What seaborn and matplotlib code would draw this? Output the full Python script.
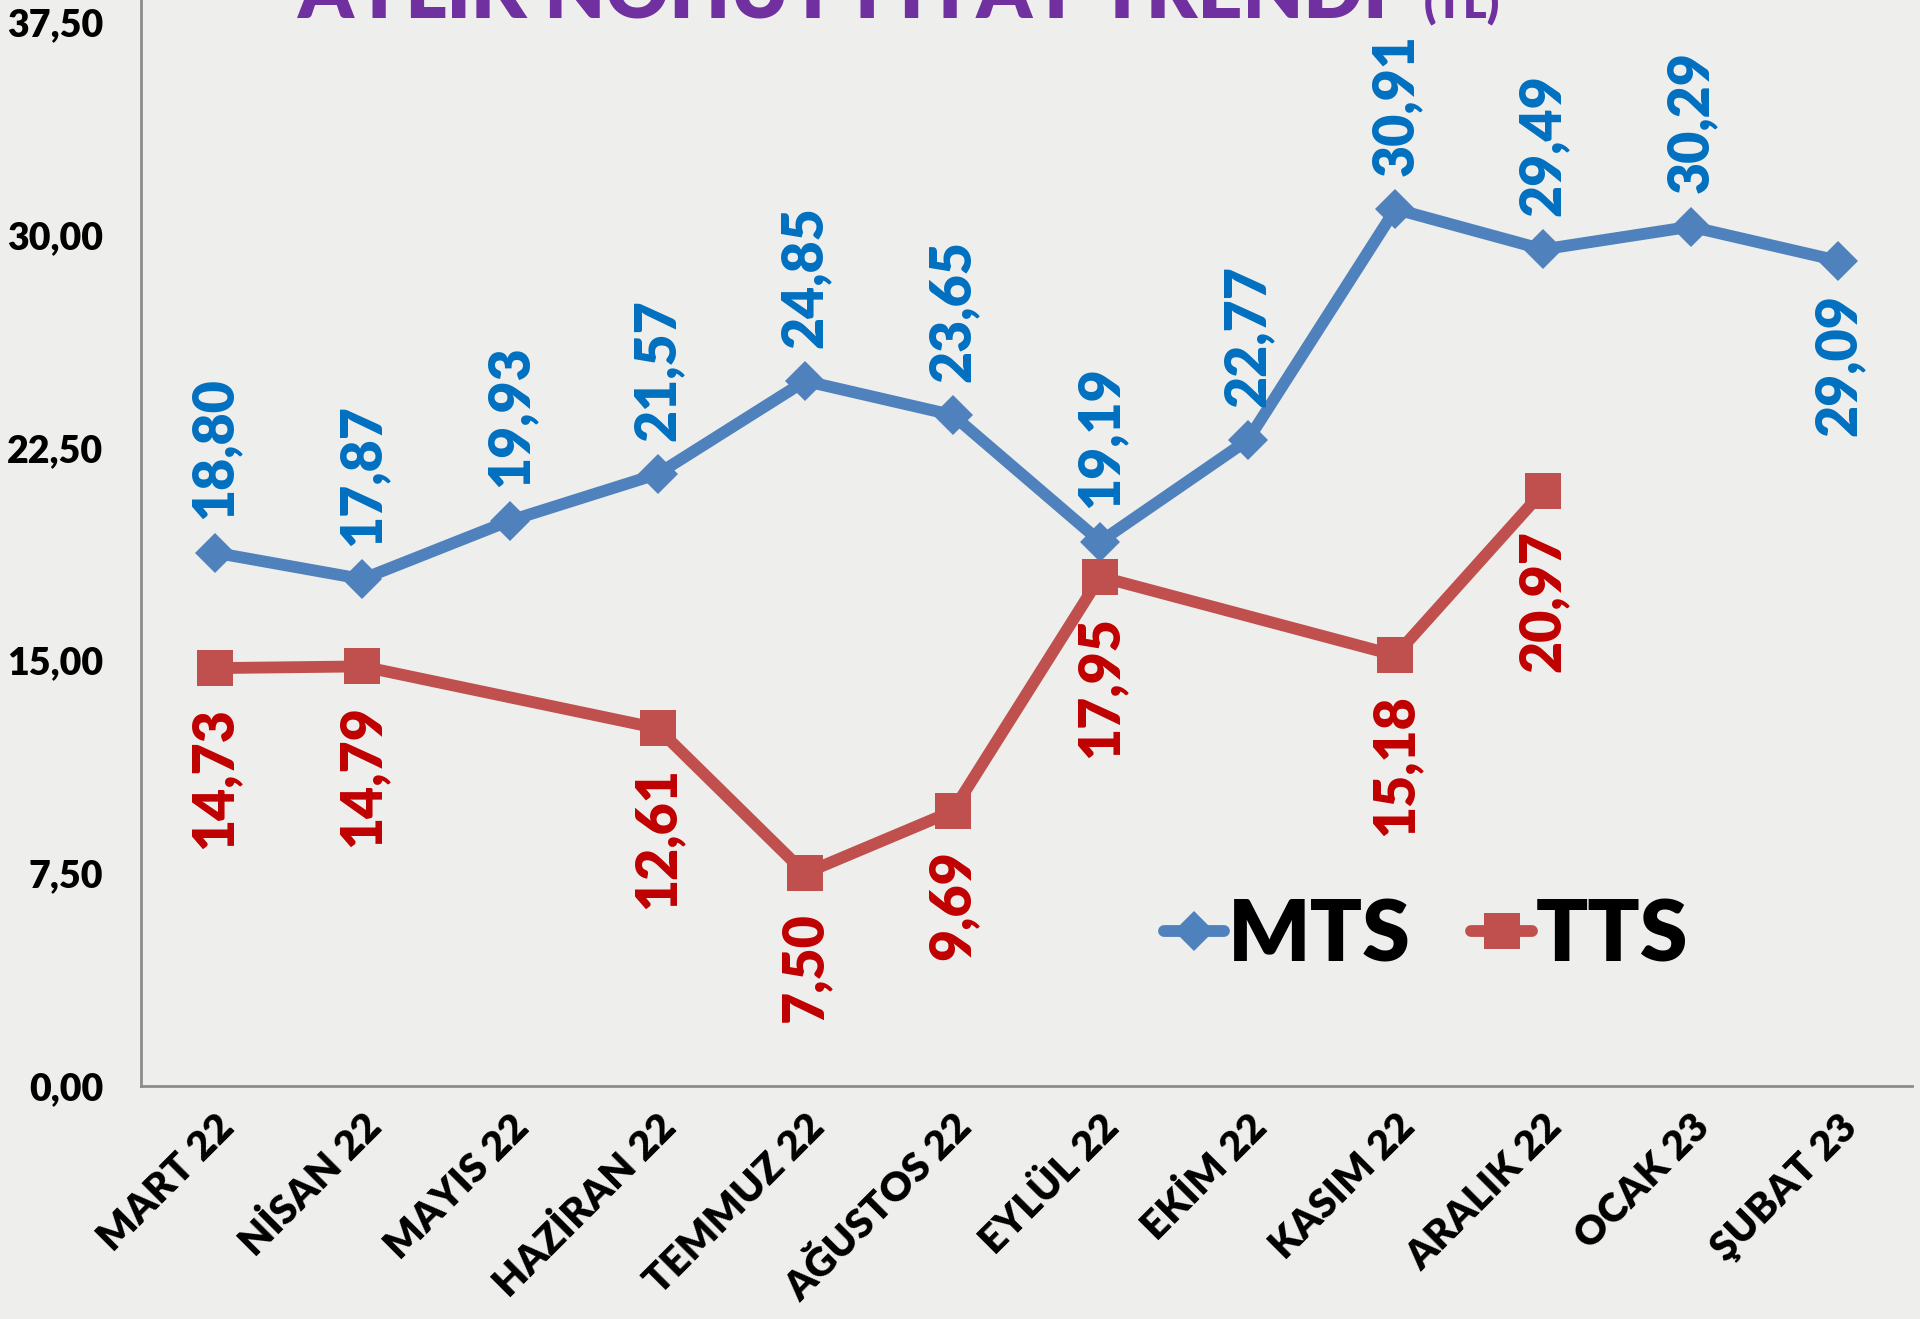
import seaborn as sns
import matplotlib.pyplot as plt
import pandas as pd
from matplotlib.ticker import FuncFormatter, FixedLocator

# monthly chickpea prices (TL)
months = ["MART 22", "NİSAN 22", "MAYIS 22", "HAZİRAN 22", "TEMMUZ 22", "AĞUSTOS 22",
          "EYLÜL 22", "EKİM 22", "KASIM 22", "ARALIK 22", "OCAK 23", "ŞUBAT 23"]
mts = [18.80, 17.87, 19.93, 21.57, 24.85, 23.65, 19.19, 22.77, 30.91, 29.49, 30.29, 29.09]
tts = [14.73, 14.79, None, 12.61, 7.50, 9.69, 17.95, None, 15.18, 20.97, None, None]
yticks = [0, 7.5, 15, 22.5, 30, 37.5]

FONT = "Lato"
BG = "#EEEEEC"
W = "heavy"

sns.set_style("white")
plt.rcParams["font.family"] = [FONT, "DejaVu Sans"]
plt.rcParams["text.color"] = "black"

fig = plt.figure(figsize=(19.2, 13.19), dpi=100, facecolor=BG)
ax = fig.add_axes([141 / 1920, 233 / 1319, (1912 - 141) / 1920, 1086 / 1319])
ax.set_facecolor(BG)

df_m = pd.DataFrame({"x": range(len(months)), "fiyat": mts})
df_t = pd.DataFrame({"x": range(len(months)), "fiyat": tts}).dropna()

sns.lineplot(data=df_m, x="x", y="fiyat", ax=ax, color="#4F81BD", linewidth=8.5,
             marker="D", markersize=20, markeredgewidth=0, label="MTS")
sns.lineplot(data=df_t, x="x", y="fiyat", ax=ax, color="#C0504D", linewidth=8.5,
             marker="s", markersize=26, markeredgewidth=0, label="TTS")

# data labels
for i, v in enumerate(mts):
    below = months[i] == "ŞUBAT 23"
    ax.annotate(f"{v:.2f}".replace(".", ","), (i, v),
                xytext=(0, -24 if below else 24), textcoords="offset points",
                rotation=90, ha="center", va="top" if below else "bottom",
                fontsize=40, fontweight=W, color="#0070C0")
for i, v in zip(df_t["x"], df_t["fiyat"]):
    ax.annotate(f"{v:.2f}".replace(".", ","), (i, v),
                xytext=(0, -28), textcoords="offset points",
                rotation=90, ha="center", va="top",
                fontsize=40, fontweight=W, color="#C00000")

ax.set_xlim(-0.5, len(months) - 0.5)
ax.set_ylim(0, 38.28)
ax.set_yticks(yticks)
ax.yaxis.set_major_formatter(FuncFormatter(lambda v, p: f"{v:.2f}".replace(".", ",")))
ax.set_xticks(range(len(months)))
ax.set_xticklabels(months, rotation=45, ha="right", rotation_mode="anchor")
ax.xaxis.set_minor_locator(FixedLocator([k - 0.5 for k in range(len(months) + 1)]))
ax.tick_params(axis="x", which="major", length=0, pad=16, labelsize=29, labelcolor="black")
ax.tick_params(axis="x", which="minor", length=10, width=1.5, color="#8C8C8C", direction="out")
ax.tick_params(axis="y", length=9, width=1.5, color="#8C8C8C", labelsize=27, pad=18,
               labelcolor="black")
for lab in ax.get_xticklabels() + ax.get_yticklabels():
    lab.set_fontweight(W)
ax.set_xlabel("")
ax.set_ylabel("")
for s in ["top", "right"]:
    ax.spines[s].set_visible(False)
for s in ["left", "bottom"]:
    ax.spines[s].set_color("#8C8C8C")
    ax.spines[s].set_linewidth(2)

leg = ax.legend(loc="center", bbox_to_anchor=(0.7256, 0.138), ncol=2, frameon=False,
                prop={"family": FONT, "weight": W, "size": 62},
                handlelength=0.7, handletextpad=0.05, columnspacing=0.7)
for t in leg.get_texts():
    t.set_color("black")

# title, cut off at the top like the original
fig.text(297 / 1920, 1 - 17 / 1319, "AYLIK NOHUT FİYAT TRENDİ", ha="left", va="baseline",
         fontsize=56.5, fontweight=W, color="#7030A0")
fig.text(1424 / 1920, 1 - 17 / 1319, "(TL)", ha="left", va="baseline",
         fontsize=32.5, fontweight=W, color="#7030A0")

fig.savefig("out.png", dpi=100, facecolor=BG)
